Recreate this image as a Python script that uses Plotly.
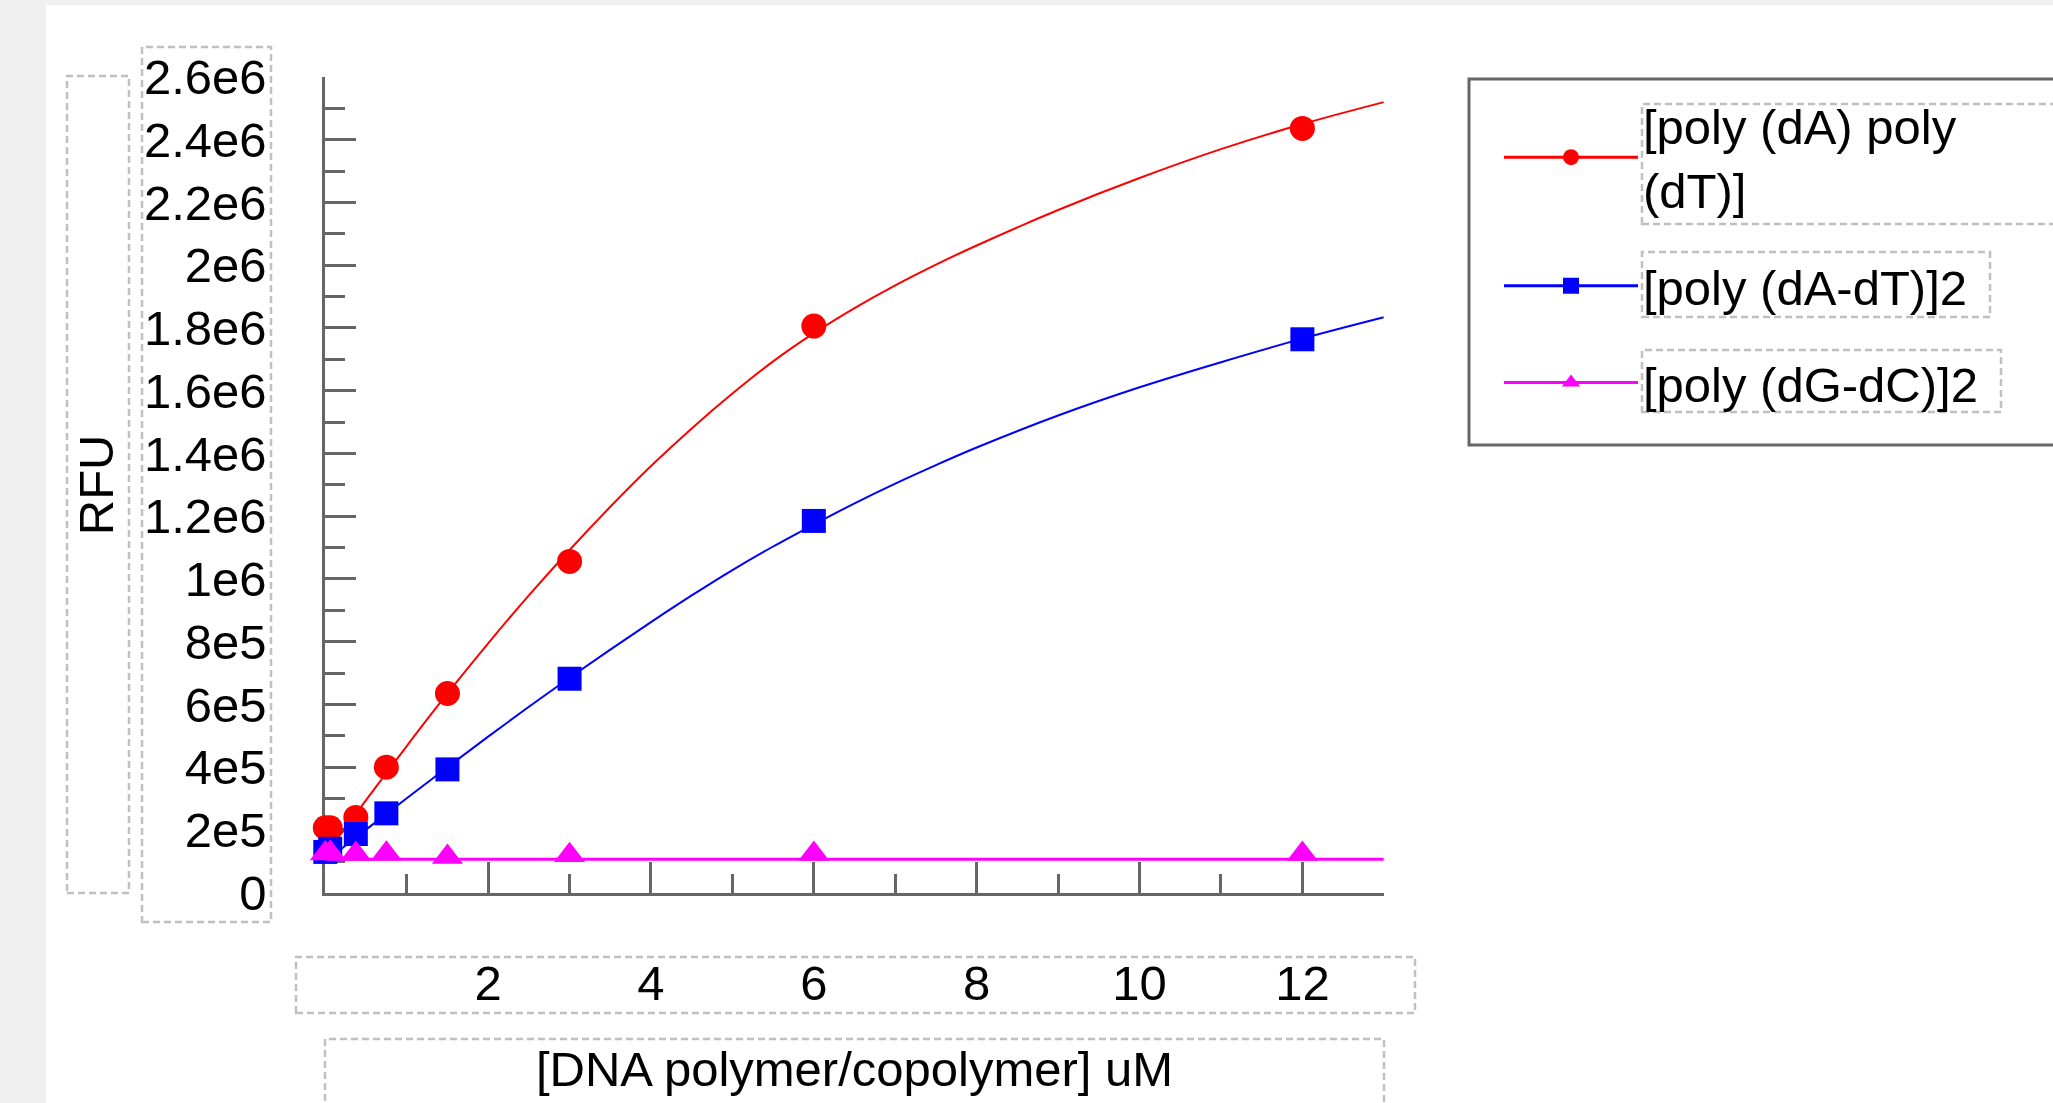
import plotly.graph_objects as go

# ---------------- data ----------------
conc_uM = [0, 0.06, 0.375, 0.75, 1.5, 3, 6, 12]
rfu_dA_dT = [2.07e5, 2.07e5, 2.40e5, 4.00e5, 6.35e5, 1.056e6, 1.806e6, 2.436e6]
rfu_dAdT_2 = [1.30e5, 1.40e5, 1.87e5, 2.53e5, 3.93e5, 6.82e5, 1.185e6, 1.764e6]
rfu_dGdC_2 = [1.25e5, 1.27e5, 1.23e5, 1.24e5, 1.14e5, 1.19e5, 1.23e5, 1.23e5]

# fitted curves
fit_x = [0, 0.5, 1, 1.5, 2, 2.5, 3, 3.5, 4, 4.5, 5, 5.5, 6, 6.5, 7, 7.5, 8, 9, 10, 11, 12, 13]
fit_dA_dT = [1.2e5, 2.95e5, 4.675e5, 6.35e5, 7.95e5, 9.475e5, 10.925e5, 12.3e5, 13.6e5,
             14.8e5, 15.91e5, 16.935e5, 17.835e5, 18.635e5, 19.36e5, 20.02e5, 20.63e5,
             21.76e5, 22.78e5, 23.7e5, 24.5e5, 25.2e5]
fit_dAdT_2 = [1.0e5, 2.01e5, 3.01e5, 4.0e5, 4.975e5, 5.925e5, 6.85e5, 7.75e5, 8.625e5,
              9.475e5, 10.285e5, 11.035e5, 11.735e5, 12.41e5, 13.04e5, 13.63e5, 14.19e5,
              15.21e5, 16.11e5, 16.91e5, 17.66e5, 18.34e5]
fit_dGdC_x = [0, 13]
fit_dGdC_2 = [1.07e5, 1.07e5]

series_names = ["[poly (dA) poly<br>(dT)]", "[poly (dA-dT)]2", "[poly (dG-dC)]2"]
series_colors = ["#ff0000", "#0000ff", "#ff00ff"]
series_symbols = ["circle", "square", "triangle-up"]

x_tickvals = [0, 2, 4, 6, 8, 10, 12]
x_ticktext = ["", "2", "4", "6", "8", "10", "12"]
y_tickvals = [0, 2e5, 4e5, 6e5, 8e5, 1e6, 1.2e6, 1.4e6, 1.6e6, 1.8e6, 2e6, 2.2e6, 2.4e6, 2.6e6]
y_ticktext = ["0", "2e5", "4e5", "6e5", "8e5", "1e6", "1.2e6", "1.4e6", "1.6e6", "1.8e6",
              "2e6", "2.2e6", "2.4e6", "2.6e6"]

x_title = "[DNA polymer/copolymer] uM"
y_title = "RFU"

# ---------------- layout geometry ----------------
W, H = 2053, 1103
FONT = "Liberation Sans, Arial, sans-serif"
FS = 49
AX = "#666666"
X_LEFT, X_RIGHT = 325.3, 1383.8
Y_BOTTOM, Y_TOP = 892.7, 77.0


def fx(p):
    return p / W


def fy(p):
    return 1 - p / H


fig = go.Figure()

fits = [(fit_x, fit_dA_dT), (fit_x, fit_dAdT_2), (fit_dGdC_x, fit_dGdC_2)]
points = [rfu_dA_dT, rfu_dAdT_2, rfu_dGdC_2]
line_widths = [2, 2, 3]
marker_sizes = [25, 24, 27]

for i in range(3):
    fxs, fys = fits[i]
    fig.add_trace(go.Scatter(
        x=fxs, y=fys, mode="lines", showlegend=False, hoverinfo="skip",
        line=dict(color=series_colors[i], width=line_widths[i], shape="spline", smoothing=1.0),
    ))
    fig.add_trace(go.Scatter(
        x=conc_uM, y=points[i], mode="markers", showlegend=False, cliponaxis=False,
        name=series_names[i].replace("<br>", " "),
        marker=dict(color=series_colors[i], symbol=series_symbols[i], size=marker_sizes[i],
                    line=dict(width=0)),
    ))

# legend entries (no drawn data)
for i in range(3):
    fig.add_trace(go.Scatter(
        x=[None], y=[None], mode="lines+markers", name=series_names[i],
        legendgroup=f"g{i}",
        line=dict(color=series_colors[i], width=3),
        marker=dict(color=series_colors[i], symbol=series_symbols[i], size=16),
    ))

axis_common = dict(
    showline=True, linecolor=AX, linewidth=3, mirror=False,
    ticks="inside", tickwidth=3, tickcolor=AX, ticklen=31,
    showgrid=False, zeroline=False, fixedrange=True, layer="below traces",
    tickfont=dict(family=FONT, size=FS, color="black"),
)

dash_boxes = [
    (67, 76, 129, 893),
    (142, 47, 271, 922),
    (296, 957, 1415, 1013),
    (325, 1039, 1384, 1110),
    (1642, 104, 2070, 224),
    (1642, 252, 1990, 317),
    (1642, 350, 2001, 412),
]
shapes = [
    dict(type="rect", xref="paper", yref="paper", x0=0, x1=fx(46), y0=0, y1=1,
         fillcolor="#f0f0f0", line=dict(width=0), layer="below"),
    dict(type="rect", xref="paper", yref="paper", x0=0, x1=1, y0=fy(5), y1=1,
         fillcolor="#f0f0f0", line=dict(width=0), layer="below"),
]
for (a, b, c, d) in dash_boxes:
    shapes.append(dict(type="rect", xref="paper", yref="paper",
                       x0=fx(a), x1=fx(c), y0=fy(d), y1=fy(b),
                       line=dict(color="#c0c0c0", width=2.5, dash="7px,4px"),
                       fillcolor="rgba(0,0,0,0)", layer="above"))
shapes.append(dict(type="rect", xref="paper", yref="paper",
                   x0=fx(1469), x1=fx(2070), y0=fy(445), y1=fy(79),
                   line=dict(color=AX, width=3), fillcolor="rgba(0,0,0,0)", layer="above"))

fig.update_layout(
    width=W, height=H,
    margin=dict(l=0, r=0, t=0, b=0, pad=0, autoexpand=False),
    paper_bgcolor="white", plot_bgcolor="white",
    font=dict(family=FONT, size=FS, color="black"),
    xaxis=dict(
        axis_common, domain=[fx(X_LEFT), fx(X_RIGHT)], range=[0, 13],
        tickmode="array", tickvals=x_tickvals, ticktext=x_ticktext,
        minor=dict(ticks="inside", ticklen=19, tickwidth=3, tickcolor=AX,
                   tickmode="linear", tick0=0, dtick=1, showgrid=False),
        ticklabelstandoff=45,
        title=dict(text=x_title, font=dict(family=FONT, size=FS, color="black"), standoff=44),
    ),
    yaxis=dict(
        axis_common, domain=[fy(Y_BOTTOM), fy(Y_TOP)], range=[0, 2.6e6],
        tickmode="array", tickvals=y_tickvals, ticktext=y_ticktext,
        minor=dict(ticks="inside", ticklen=20, tickwidth=3, tickcolor=AX,
                   tickmode="linear", tick0=0, dtick=1e5, showgrid=False),
        ticklabelstandoff=46,
        title=dict(text=y_title, font=dict(family=FONT, size=FS, color="black"), standoff=15),
    ),
    showlegend=True,
    legend=dict(
        x=fx(1499), y=fy(87), xanchor="left", yanchor="top",
        bgcolor="rgba(0,0,0,0)", borderwidth=0,
        font=dict(family=FONT, size=FS, color="black"),
        itemwidth=134, tracegroupgap=30, valign="middle",
        itemclick=False, itemdoubleclick=False,
    ),
    shapes=shapes,
)

fig.write_html("out.html", config={"displayModeBar": False},
               post_script="document.body.style.margin='0';")
